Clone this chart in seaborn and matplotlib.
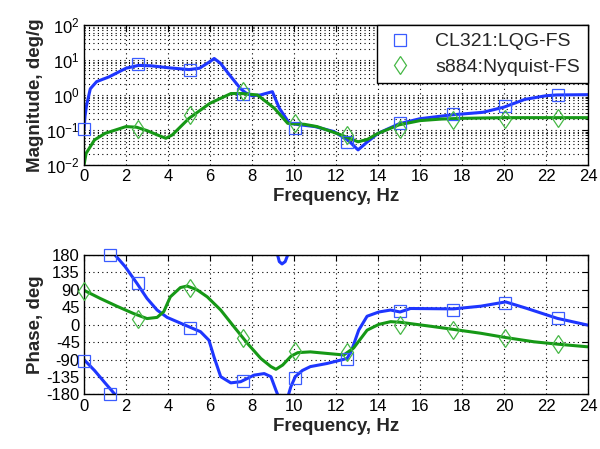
import numpy as np
import pandas as pd
import matplotlib
matplotlib.use("Agg")
import matplotlib.pyplot as plt
from matplotlib.lines import Line2D
import seaborn as sns

# ---------------- data ----------------
series_names = ["CL321:LQG-FS", "s884:Nyquist-FS"]

# magnitude, blue
mag_b_f = [0, 0.05, 0.12, 0.3, 0.6, 1.2, 2.0, 2.6, 3.2, 4.0, 5.0, 5.5, 6.0, 6.2, 6.5, 7.0,
           7.46, 7.7, 8.0, 8.4, 8.97, 9.3, 9.78, 10.3, 11.0, 11.9, 12.56, 13.05, 13.5, 14.0,
           15.0, 16.0, 17.5, 19.0, 20.0, 21.0, 22.0, 22.5, 24.0]
mag_b_v = [0.1, 0.25, 0.5, 1.5, 2.4, 3.3, 5.8, 7.0, 6.8, 6.0, 5.3, 5.8, 9.0, 11.0, 8.0, 3.3,
           1.5, 1.15, 0.95, 1.0, 1.24, 0.42, 0.155, 0.14, 0.125, 0.09, 0.052, 0.027, 0.046, 0.08,
           0.15, 0.21, 0.27, 0.32, 0.45, 0.75, 0.95, 1.0, 1.02]
# magnitude, green
mag_g_f = [0, 0.1, 0.5, 1.0, 2.0, 2.5, 3.0, 3.5, 3.9, 4.2, 5.0, 6.0, 7.0, 7.5, 8.26, 9.06,
           9.7, 10.5, 11.1, 12.25, 13.05, 13.5, 14.0, 15.0, 16.0, 17.0, 18.0, 20.0, 24.0]
mag_g_v = [0.01, 0.0215, 0.052, 0.08, 0.125, 0.12, 0.096, 0.072, 0.058, 0.072, 0.215, 0.58,
           1.1, 1.1, 1.0, 0.42, 0.155, 0.145, 0.125, 0.072, 0.046, 0.054, 0.08, 0.14, 0.185,
           0.205, 0.215, 0.225, 0.225]

# phase, blue (wrapped, split into segments)
ph_b_segments = [
    ([0, 0.5, 1.0, 1.48], [-90, -118, -150, -180]),
    ([1.48, 1.96, 2.52, 3.0, 3.48, 3.96, 4.43, 4.99, 5.55, 5.95, 6.19, 6.51, 6.99, 7.46,
      8.1, 8.58, 8.9, 9.14, 9.22],
     [180, 150, 107, 68, 38, 19, 8, -5, -18, -40, -83, -134, -150, -147, -130, -126, -134,
      -169, -180]),
    ([9.22, 9.3, 9.43, 9.58, 9.7], [180, 163, 157, 163, 180]),
    ([9.74, 9.85, 10.06, 10.4, 10.78, 11.57, 12.53, 12.75, 13.08, 13.48, 14.04, 14.6, 15.05,
      15.55, 17.6, 18.9, 20.08, 21.1, 22.54, 24.0],
     [-180, -160, -134, -118, -108, -100, -87, -65, -14, 22, 33, 38, 33, 42, 41, 48, 59, 42,
      16.5, -1]),
]
# phase, green
ph_g_f = [0, 0.77, 1.56, 2.36, 3.0, 3.48, 3.8, 4.11, 4.59, 4.91, 5.39, 5.87, 6.51, 7.14,
          7.78, 8.42, 8.9, 9.14, 9.46, 9.86, 10.18, 10.78, 11.57, 12.37, 12.84, 13.48, 14.04,
          14.6, 15.05, 16.66, 17.6, 18.9, 20.08, 21.43, 22.54, 24.0]
ph_g_v = [89, 68, 48, 29, 16, 19, 34, 72, 96, 100, 90, 72, 38, -5, -48, -87, -108, -115,
          -104, -81, -72, -70, -74, -78, -60, -14, 1, 8, 6.5, -5, -12, -22, -33, -44, -50, -57]

# marker data
mk_b_mag_f = [0, 2.55, 5.05, 7.55, 10.05, 12.5, 15.05, 17.55, 20.05, 22.55]
mk_b_mag_v = [0.105, 7.5, 5.0, 1.05, 0.115, 0.046, 0.155, 0.28, 0.48, 1.02]
mk_g_mag_f = [2.55, 5.05, 7.55, 10.05, 12.5, 15.05, 17.55, 20.05, 22.55]
mk_g_mag_v = [0.11, 0.27, 1.28, 0.155, 0.072, 0.11, 0.19, 0.205, 0.215]
mk_b_ph_f = [0, 1.25, 1.25, 2.55, 5.05, 7.55, 10.05, 12.5, 15.05, 17.55, 20.05, 22.55]
mk_b_ph_v = [-93, 180, -180, 107, -9, -145, -137, -89, 36, 38, 57, 16.5]
mk_g_ph_f = [0, 2.55, 5.05, 7.55, 10.05, 12.5, 15.05, 17.55, 20.05, 22.55]
mk_g_ph_v = [87, 16, 94, -33, -67, -70, 0, -14, -35, -50]

freq_ticks = list(range(0, 25, 2))
mag_ticks = [1e-2, 1e-1, 1e0, 1e1, 1e2]
mag_tick_labels = [r"$\mathdefault{10^{-2}}$", r"$\mathdefault{10^{-1}}$",
                   r"$\mathdefault{10^{0}}$", r"$\mathdefault{10^{1}}$",
                   r"$\mathdefault{10^{2}}$"]
phase_ticks = [-180, -135, -90, -45, 0, 45, 90, 135, 180]
phase_tick_labels = ["-180", "-135", "-90", "-45", "0", "45", "90", "135", "180"]

# ---------------- style ----------------
sns.set_theme(style="white")
plt.rcParams["font.family"] = ["Liberation Sans", "DejaVu Sans"]
plt.rcParams["mathtext.fontset"] = "custom"
plt.rcParams["mathtext.rm"] = "Liberation Sans"
plt.rcParams["mathtext.it"] = "Liberation Sans:italic"
plt.rcParams["mathtext.bf"] = "Liberation Sans:bold"

BLUE = "#1e36ff"
BLUE_MK = "#3a5cff"
GREEN = "#169816"
GREEN_MK = "#46b846"
LW = 2.2
SQ_MS = 8.5
DI_MS = 9.5

fig = plt.figure(figsize=(6.0, 4.49), dpi=100)
ax1 = fig.add_axes([0.140, 0.6325, 0.840, 0.312])
ax2 = fig.add_axes([0.140, 0.1214, 0.840, 0.3106])

grid_kw = dict(color="black", linestyle=(0, (1, 3)), linewidth=0.8)

# --- magnitude ---
sns.lineplot(x=mag_b_f, y=mag_b_v, ax=ax1, color=BLUE, lw=LW, sort=False, estimator=None)
sns.lineplot(x=mag_g_f, y=mag_g_v, ax=ax1, color=GREEN, lw=LW, sort=False, estimator=None)
ax1.plot(mk_b_mag_f, mk_b_mag_v, ls="none", marker="s", ms=SQ_MS, mfc="none",
         mec=BLUE_MK, mew=0.9, clip_on=False, zorder=5)
ax1.plot(mk_g_mag_f, mk_g_mag_v, ls="none", marker="d", ms=DI_MS, mfc="none",
         mec=GREEN_MK, mew=0.9, clip_on=True, zorder=5)
ax1.set_yscale("log")
ax1.set_ylim(1e-2, 1e2)
ax1.set_xlim(0, 24)
ax1.set_xticks(freq_ticks)
ax1.set_xticklabels([str(t) for t in freq_ticks])
ax1.set_yticks(mag_ticks)
ax1.set_yticklabels(mag_tick_labels)
ax1.yaxis.set_minor_locator(matplotlib.ticker.LogLocator(base=10, subs=np.arange(2, 10)))
ax1.yaxis.set_minor_formatter(matplotlib.ticker.NullFormatter())
ax1.grid(True, which="major", axis="both", **grid_kw)
ax1.grid(True, which="minor", axis="y", **grid_kw)
ax1.set_xlabel("Frequency, Hz", fontsize=13.5, fontweight="bold", labelpad=3)
ax1.set_ylabel("Magnitude, deg/g", fontsize=13.5, fontweight="bold", labelpad=2)

# --- phase ---
for seg_f, seg_v in ph_b_segments:
    sns.lineplot(x=seg_f, y=seg_v, ax=ax2, color=BLUE, lw=LW, sort=False, estimator=None)
sns.lineplot(x=ph_g_f, y=ph_g_v, ax=ax2, color=GREEN, lw=LW, sort=False, estimator=None)
ax2.plot(mk_b_ph_f, mk_b_ph_v, ls="none", marker="s", ms=SQ_MS, mfc="none",
         mec=BLUE_MK, mew=0.9, clip_on=False, zorder=5)
ax2.plot(mk_g_ph_f, mk_g_ph_v, ls="none", marker="d", ms=DI_MS, mfc="none",
         mec=GREEN_MK, mew=0.9, clip_on=False, zorder=5)
ax2.set_xlim(0, 24)
ax2.set_ylim(-180, 180)
ax2.set_xticks(freq_ticks)
ax2.set_xticklabels([str(t) for t in freq_ticks])
ax2.set_yticks(phase_ticks)
ax2.set_yticklabels(phase_tick_labels)
ax2.grid(True, which="major", **grid_kw)
ax2.set_xlabel("Frequency, Hz", fontsize=13.5, fontweight="bold", labelpad=3)
ax2.set_ylabel("Phase, deg", fontsize=13.5, fontweight="bold", labelpad=2)

for ax in (ax1, ax2):
    for sp in ax.spines.values():
        sp.set_visible(True)
        sp.set_color("black")
        sp.set_linewidth(1.0)
    ax.tick_params(which="both", direction="in", top=True, right=True, colors="black",
                   labelsize=12, pad=3)
    ax.tick_params(which="major", length=4, width=0.8)
    ax.tick_params(which="minor", length=2.5, width=0.6)
    ax.set_axisbelow(True)
    ax.set_facecolor("white")

handles = [
    Line2D([], [], ls="none", marker="s", ms=SQ_MS, mfc="none", mec=BLUE_MK, mew=0.9),
    Line2D([], [], ls="none", marker="d", ms=DI_MS, mfc="none", mec=GREEN_MK, mew=0.9),
]
leg = ax1.legend(handles, series_names, loc="upper right", fontsize=14, frameon=True,
                 fancybox=False, edgecolor="black", framealpha=1, borderaxespad=0,
                 handlelength=1.6, handletextpad=1.0, borderpad=0.4, labelspacing=0.4)
leg.get_frame().set_linewidth(1.0)

fig.savefig("out.png", dpi=100, facecolor="white")
